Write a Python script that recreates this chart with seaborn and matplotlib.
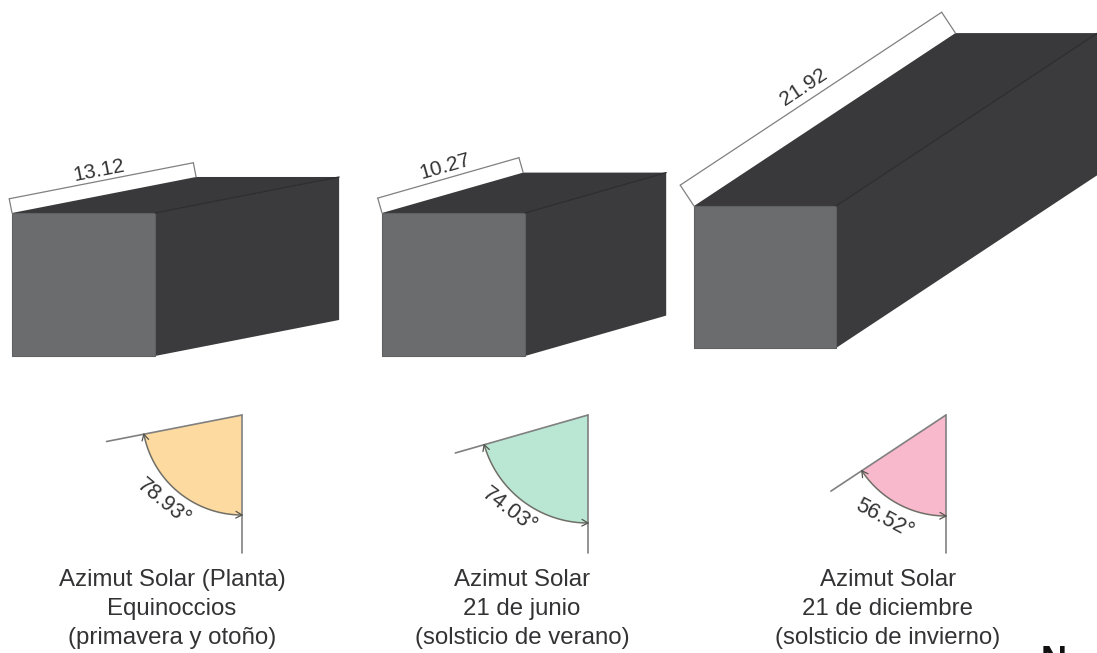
import numpy as np
import pandas as pd
import matplotlib
matplotlib.use("Agg")
import matplotlib.pyplot as plt
from matplotlib.patches import Polygon
import seaborn as sns

# --- values ---
sombras = [13.12, 10.27, 21.92]
azimuts = [78.93, 74.03, 56.52]
captions = [
    ["Azimut Solar (Planta)", "Equinoccios", "(primavera y otoño)"],
    ["Azimut Solar", "21 de junio", "(solsticio de verano)"],
    ["Azimut Solar", "21 de diciembre", "(solsticio de invierno)"],
]
colores = ["#FDDA9F", "#B9E7D3", "#F9B9CC"]

# --- layout (pixels) ---
caja_x = [12, 382, 694]
caja_y = [213, 213, 206]
caja_lado = [143, 143, 142]
cota_off = [14.5, 15.5, 25]
cota_txt = [10, 12, 14]
vertice_x = [242, 588, 946]
radio = [100, 108, 101]
radio_txt = [118, 124, 121]
caption_x = [172, 522, 888]
PX_POR_UNIDAD = 14.3
VERTICE_Y = 415
BRAZO = 138

sns.set_theme(style="white")
plt.rcParams["font.family"] = ["Liberation Sans", "DejaVu Sans"]

fig = plt.figure(figsize=(10.97, 6.53), dpi=100, facecolor="white")
ax = fig.add_axes([0, 0, 1, 1])
ax.set_xlim(0, 1097)
ax.set_ylim(653, 0)
sns.despine(ax=ax, left=True, bottom=True)
ax.set_xticks([])
ax.set_yticks([])

FRONT, DARK, GUIDE, TXT = "#6A6C6E", "#3B3B3D", "#808080", "#333335"


def linea(xs, ys, color=GUIDE, lw=1.0, z=3):
    df = pd.DataFrame({"x": xs, "y": ys})
    sns.lineplot(data=df, x="x", y="y", sort=False, estimator=None, color=color,
                 linewidth=lw, ax=ax, zorder=z, legend=False)


for i in range(3):
    L, az = sombras[i], np.radians(azimuts[i])
    x0, y0, s = caja_x[i], caja_y[i], caja_lado[i]
    dx, dy = L * PX_POR_UNIDAD * np.sin(az), -L * PX_POR_UNIDAD * np.cos(az)
    ux, uy = dx / np.hypot(dx, dy), dy / np.hypot(dx, dy)
    nx, ny = uy, -ux  # normal pointing up-left

    # box faces
    ax.add_patch(Polygon([(x0, y0), (x0 + dx, y0 + dy), (x0 + s + dx, y0 + dy), (x0 + s, y0)],
                         closed=True, fc="#39393B", ec="none", zorder=1))
    ax.add_patch(Polygon([(x0 + s, y0), (x0 + s + dx, y0 + dy), (x0 + s + dx, y0 + s + dy), (x0 + s, y0 + s)],
                         closed=True, fc=DARK, ec="none", zorder=1))
    ax.add_patch(Polygon([(x0, y0), (x0 + s, y0), (x0 + s, y0 + s), (x0, y0 + s)],
                         closed=True, fc=FRONT, ec="#5E6062", lw=0.8, zorder=2))
    linea([x0 + s, x0 + s + dx], [y0, y0 + dy], color="#2C2C2E", lw=0.9, z=2)

    # dimension line
    off = cota_off[i]
    ax1, ay1 = x0 + nx * off, y0 + ny * off
    ax2, ay2 = x0 + dx + nx * off, y0 + dy + ny * off
    linea([ax1, ax2], [ay1, ay2], lw=0.9)
    linea([x0, ax1], [y0, ay1], lw=0.9)
    linea([x0 + dx, ax2], [y0 + dy, ay2], lw=0.9)
    mx, my = (ax1 + ax2) / 2 + nx * cota_txt[i], (ay1 + ay2) / 2 + ny * cota_txt[i]
    ax.text(mx, my, f"{sombras[i]:.2f}", rotation=np.degrees(np.arctan2(-dy, dx)),
            rotation_mode="anchor", ha="center", va="center", fontsize=15, color=TXT, zorder=5)

    # azimuth wedge
    vx, vy, r = vertice_x[i], VERTICE_Y, radio[i]
    th = np.linspace(0, az, 60)
    ax_arc, ay_arc = vx - r * np.sin(th), vy + r * np.cos(th)
    ax.add_patch(Polygon(np.column_stack([np.r_[vx, ax_arc], np.r_[vy, ay_arc]]),
                         closed=True, fc=colores[i], ec="none", zorder=1))
    linea(ax_arc, ay_arc, color="#6F6F68", lw=1.1)
    linea([vx, vx], [vy, vy + BRAZO], lw=1.2)
    linea([vx, vx - BRAZO * np.sin(az)], [vy, vy + BRAZO * np.cos(az)], lw=1.2)
    # small arrow heads at both arc ends
    for j, k in ((-1, -5), (0, 4)):
        ex, ey = ax_arc[j], ay_arc[j]
        ang = np.arctan2(ey - ay_arc[k], ex - ax_arc[k])
        for d in (-0.5, 0.5):
            linea([ex, ex - 7 * np.cos(ang + d)], [ey, ey - 7 * np.sin(ang + d)], color="#555550", lw=0.9)

    # angle label
    rt = radio_txt[i]
    med = az / 2 + np.radians(2.5)
    ax.text(vx - rt * np.sin(med), vy + rt * np.cos(med), f"{azimuts[i]:.2f}°",
            rotation=-np.degrees(az / 2), rotation_mode="anchor", ha="center", va="center",
            fontsize=15.5, color=TXT, zorder=5)

    # caption
    for k, t in enumerate(captions[i]):
        ax.text(caption_x[i], 580 + 29 * k, t, ha="center", va="center",
                fontsize=17.3, color=TXT, zorder=5)

ax.text(1054, 645, "N", ha="center", va="top", fontsize=26, fontweight="bold",
        color="#111111", clip_on=False)

fig.savefig("out.png", dpi=100, facecolor="white")
